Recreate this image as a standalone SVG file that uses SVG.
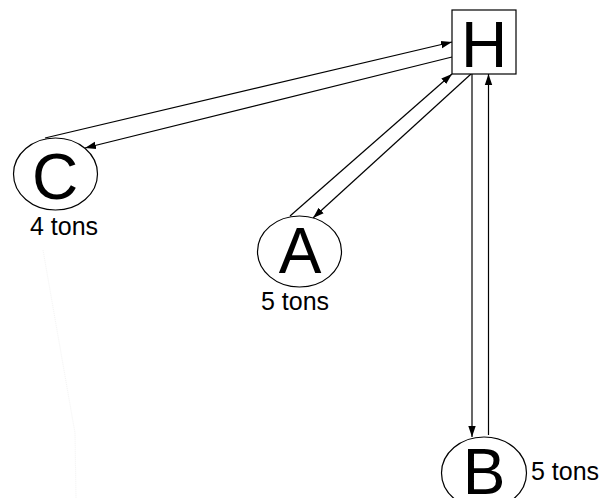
<svg xmlns="http://www.w3.org/2000/svg" width="603" height="498" viewBox="0 0 603 498">
<style>
.shape{fill:#fff;stroke:#000;stroke-width:1.2}
.big{font-family:"Liberation Sans",Arial,sans-serif;font-size:64px;fill:#000;text-anchor:middle}
.lbl{font-family:"Liberation Sans",Arial,sans-serif;font-size:25px;fill:#000}
.edge{fill:none;stroke:#000;stroke-width:1.2}
</style>
<defs>
<marker id="arr" viewBox="0 0 11 10" refX="11" refY="5" markerWidth="11" markerHeight="10" markerUnits="userSpaceOnUse" orient="auto">
<path d="M0,1.3 L11,5 L0,8.7 z" fill="#000"/>
</marker>
</defs>
<rect width="603" height="498" fill="#fff"/>
<polyline points="43,250 75,433 76,498" fill="none" stroke="#f3f3f3" stroke-width="1" stroke-dasharray="1,1"/>
<g id="connectors">
<line class="edge" x1="45" y1="138" x2="452" y2="42" marker-end="url(#arr)"/>
<line class="edge" x1="452" y1="57" x2="85" y2="148" marker-end="url(#arr)"/>
<line class="edge" x1="290" y1="216" x2="452" y2="74" marker-end="url(#arr)"/>
<line class="edge" x1="471" y1="74" x2="313" y2="218" marker-end="url(#arr)"/>
<line class="edge" x1="472" y1="74" x2="472" y2="437" marker-end="url(#arr)"/>
<line class="edge" x1="488.5" y1="435" x2="488.5" y2="74" marker-end="url(#arr)"/>
</g>
<g id="node-H">
<rect class="shape" x="452" y="10" width="64" height="64"/>
<text class="big" x="484" y="67">H</text>
</g>
<g id="node-C">
<ellipse class="shape" cx="55.5" cy="174" rx="42" ry="36"/>
<text class="big" x="55" y="199">C</text>
<text class="lbl" x="30" y="235">4 tons</text>
</g>
<g id="node-A">
<ellipse class="shape" cx="299.5" cy="251.5" rx="42" ry="35.5"/>
<text class="big" x="300" y="273">A</text>
<text class="lbl" x="261" y="310">5 tons</text>
</g>
<g id="node-B">
<ellipse class="shape" cx="484" cy="473" rx="42.5" ry="36"/>
<text class="big" x="484" y="494">B</text>
<text class="lbl" x="531" y="480">5 tons</text>
</g>
</svg>
